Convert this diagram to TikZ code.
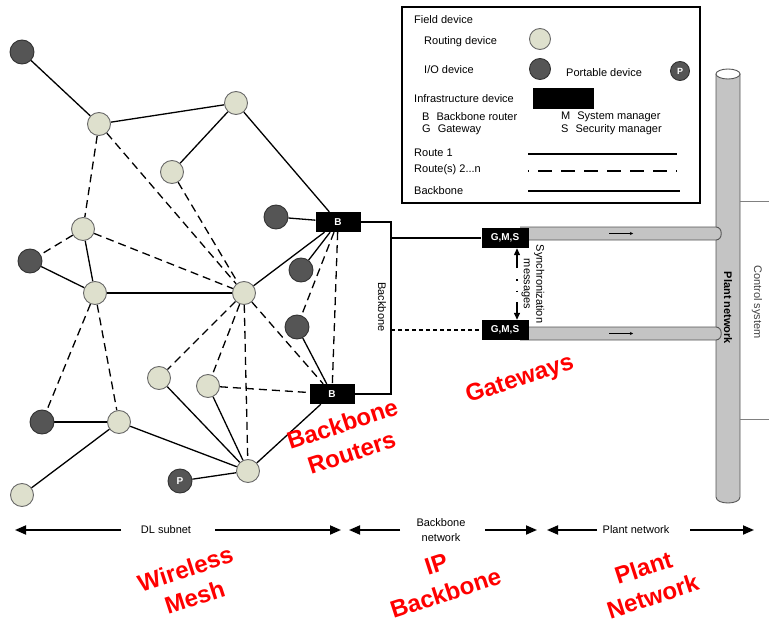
\documentclass[tikz,border=0pt]{standalone}
\usepackage{fontspec}
\setmainfont{Liberation Sans}
\usetikzlibrary{arrows.meta}

\definecolor{routefill}{RGB}{222,224,205}
\definecolor{routeedge}{RGB}{105,105,105}
\definecolor{iofill}{RGB}{85,85,85}
\definecolor{ioedge}{RGB}{50,50,50}
\definecolor{pipefill}{RGB}{196,196,196}
\definecolor{pipeedge}{RGB}{85,85,85}
\definecolor{labelred}{RGB}{255,0,0}

\pgfdeclarelayer{bg}
\pgfsetlayers{bg,main}

\tikzset{
  routing/.style={circle, draw=routeedge, fill=routefill, line width=0.9pt, minimum size=23pt, inner sep=0pt},
  iodev/.style={circle, draw=ioedge, fill=iofill, line width=0.9pt, minimum size=24pt, inner sep=0pt,
                text=white, font=\fontsize{10}{12}\selectfont\bfseries},
  infra/.style={fill=black, text=white, font=\fontsize{10}{12}\selectfont\bfseries,
                minimum width=45pt, minimum height=20pt, inner sep=0pt},
  route1/.style={line width=1.3pt},
  routen/.style={line width=1.3pt, dash pattern=on 8pt off 5pt},
  bbone/.style={line width=2.2pt},
  txt/.style={font=\fontsize{11}{13}\selectfont, inner sep=0pt},
  bigred/.style={text=labelred, font=\fontsize{24}{30}\selectfont\bfseries, align=center, rotate=18, inner sep=0pt},
  span/.style={line width=1.8pt, -{Triangle[length=11pt,width=9pt]}},
  pipe/.style={draw=pipeedge, fill=pipefill, line width=0.9pt},
}

\begin{document}
\begin{tikzpicture}[x=1pt,y=-1pt]
\useasboundingbox (0,0) rectangle (769,623);

% ---------- legend ----------
\draw[line width=2pt] (402,7) rectangle (700,203);
\node[txt, anchor=west] (lfd) at (414,20) {Field device};
\node[txt, anchor=west] (lrd) at (424,42) {Routing device};
\node[routing, minimum size=21pt] (lrc) at (540,39) {};
\node[txt, anchor=west] (lio) at (424,70) {I/O device};
\node[iodev, minimum size=21pt] (lic) at (540,69) {};
\node[txt, anchor=west] (lpd) at (566,73) {Portable device};
\node[iodev, minimum size=19pt, font=\fontsize{9}{10}\selectfont\bfseries] (lpc) at (680,71) {P};
\node[txt, anchor=west] (lin) at (414,99) {Infrastructure device};
\node[fill=black, minimum width=61pt, minimum height=21pt, inner sep=0pt] (lbx) at (563.5,98.5) {};
\node[txt, anchor=west] (lbb) at (422,117) {B\hspace{7pt}Backbone router};
\node[txt, anchor=west] (lgw) at (422,130) {G\hspace{7pt}Gateway};
\node[txt, anchor=west] (lsm) at (561,117) {M\hspace{7pt}System manager};
\node[txt, anchor=west] (lsc) at (561,130) {S\hspace{7pt}Security manager};
\node[txt, anchor=west] (lr1) at (414,153) {Route 1};
\node[txt, anchor=west] (lrn) at (414,170) {Route(s) 2...n};
\node[txt, anchor=west] (lbk) at (414,191) {Backbone};
\coordinate (ra1) at (528,154); \coordinate (rb1) at (677,154);
\coordinate (ra2) at (528,171); \coordinate (rb2) at (677,171);
\coordinate (ra3) at (528,191); \coordinate (rb3) at (680,191);
\draw[route1] (ra1) -- (rb1);
\draw[line width=1.4pt, dash pattern=on 14pt off 9pt, dash phase=13pt] (ra2) -- (rb2);
\draw[line width=2.6pt] (ra3) -- (rb3);

% ---------- plant network pipes ----------
\draw[pipe] (716,74) -- (716,497) .. controls (716,505) and (740,505) .. (740,497) -- (740,74);
\draw[pipeedge, fill=white, line width=0.9pt] (728,74) ellipse [x radius=12, y radius=5];
\draw[pipe] (520,227) -- (716,227) .. controls (723,227) and (723,240) .. (716,240) -- (520,240);
\draw[pipe] (520,327) -- (716,327) .. controls (723,327) and (723,340) .. (716,340) -- (520,340);
\draw[line width=0.6pt, -{Stealth[length=3pt,width=3pt]}] (609,233.5) -- (633,233.5);
\draw[line width=0.6pt, -{Stealth[length=3pt,width=3pt]}] (609,333.5) -- (633,333.5);
\node[txt, rotate=-90, font=\fontsize{11}{13}\selectfont\bfseries] (pn) at (728,308) {Plant network};
\draw[gray, line width=0.7pt] (740,201) -- (769,201);
\draw[gray, line width=0.7pt] (740,419) -- (769,419);
\node[txt, rotate=-90, text=black!75] (cs) at (757,302) {Control system};

% ---------- wireless mesh nodes ----------
\node[iodev]   (io1) at (22,52)   {};
\node[routing] (r1)  at (99,124)  {};
\node[routing] (r2)  at (236,103) {};
\node[routing] (r3)  at (172,172) {};
\node[iodev]   (io2) at (276,217) {};
\node[routing] (r4)  at (83,229)  {};
\node[iodev]   (io3) at (30,261)  {};
\node[routing] (r5)  at (95,293)  {};
\node[routing] (hub) at (244,293) {};
\node[iodev]   (io4) at (301,270) {};
\node[iodev]   (io5) at (297,327) {};
\node[routing] (r7)  at (159,378) {};
\node[routing] (r8)  at (208,386) {};
\node[iodev]   (io6) at (42,422)  {};
\node[routing] (r9)  at (119,422) {};
\node[routing] (r10) at (22,495)  {};
\node[routing] (r11) at (248,471) {};
\node[iodev]   (pd)  at (180,481) {P};

% ---------- infrastructure devices ----------
\node[infra] (b1) at (338,222) {B};
\node[infra] (b2) at (332,394) {B};
\node[infra, minimum width=47pt] (g1) at (505,238) {G,M,S};
\node[infra, minimum width=47pt] (g2) at (505,330) {G,M,S};

% ---------- mesh links ----------
\begin{pgfonlayer}{bg}
\draw[route1] (io1) -- (r1);
\draw[route1] (r1) -- (r2);
\draw[route1] (r2) -- (r3);
\draw[route1] (r2) -- (b1);
\draw[route1] (io2) -- (b1);
\draw[route1] (hub) -- (b1);
\draw[route1] (io4) -- (b1);
\draw[route1] (io5) -- (b2);
\draw[route1] (r4) -- (r5);
\draw[route1] (io3) -- (r5);
\draw[route1] (r5) -- (hub);
\draw[route1] (r9) -- (io6);
\draw[route1] (r9) -- (r10);
\draw[route1] (r9) -- (r11);
\draw[route1] (r7) -- (r11);
\draw[route1] (r8) -- (r11);
\draw[route1] (pd) -- (r11);
\draw[route1] (r11) -- (b2);

\draw[routen] (r1) -- (r4);
\draw[routen] (r1) -- (hub);
\draw[routen] (r3) -- (hub);
\draw[routen] (r4) -- (io3);
\draw[routen] (r4) -- (hub);
\draw[routen] (r5) -- (io6);
\draw[routen] (r5) -- (r9);
\draw[routen] (hub) -- (r7);
\draw[routen] (hub) -- (r8);
\draw[routen] (hub) -- (r11);
\draw[routen] (hub) -- (b2);
\draw[routen] (r8) -- (b2);
\draw[routen] (b1) -- (b2);
\draw[routen] (b1) -- (io5);
\end{pgfonlayer}

% ---------- backbone ----------
\coordinate (bt) at (391,222);
\coordinate (bb) at (391,394);
\draw[bbone] (b1.east) -- (bt) -- (bb) -- (b2.east);
\draw[bbone] (bt |- g1.west) -- (g1.west);
\draw[bbone, dash pattern=on 4pt off 3pt] (bt |- g2.west) -- (g2.west);
\node[txt, rotate=-90] (bbl) at (382,307) {Backbone};

% ---------- synchronization ----------
\coordinate (sa) at (517,268);
\coordinate (sb) at (517,302);
\draw[line width=1.3pt, -{Triangle[length=7pt,width=6pt]}] (sa) -- (sa |- g1.south) ;
\draw[line width=1.3pt, -{Triangle[length=7pt,width=6pt]}] (sb) -- (sb |- g2.north);
\draw[line width=1.5pt, dash pattern=on 1.5pt off 10pt, shorten <=11pt, shorten >=8pt] (sa) -- (sb);
\node[txt, rotate=-90, align=center, font=\fontsize{11}{12.5}\selectfont] (sync) at (533,284) {Synchronization\\messages};

% ---------- spans along the bottom ----------
\node[txt] (dl) at (166,530) {DL subnet};
\node[txt, align=center, font=\fontsize{11}{14.5}\selectfont] (bn) at (441,530) {Backbone\\network};
\node[txt] (pl) at (636,530) {Plant network};
\coordinate (dlL0) at (121,530); \coordinate (dlL) at (15,530);
\coordinate (dlR0) at (215,530); \coordinate (dlR) at (341,530);
\coordinate (bnL0) at (400,530); \coordinate (bnL) at (349,530);
\coordinate (bnR0) at (485,530); \coordinate (bnR) at (537,530);
\coordinate (plL0) at (597,530); \coordinate (plL) at (547,530);
\coordinate (plR0) at (690,530); \coordinate (plR) at (754,530);
\draw[span] (dlL0) -- (dlL);
\draw[span] (dlR0) -- (dlR);
\draw[span] (bnL0) -- (bnL);
\draw[span] (bnR0) -- (bnR);
\draw[span] (plL0) -- (plL);
\draw[span] (plR0) -- (plR);

% ---------- red captions ----------
\node[bigred] (cwm) at (190,583) {Wireless\\Mesh};
\node[bigred] (cbr) at (347,438) {Backbone\\Routers};
\node[bigred] (cgw) at (520,380) {Gateways};
\node[bigred] (cip) at (441,579) {IP\\Backbone};
\node[bigred] (cpn) at (648,582) {Plant\\Network};
\end{tikzpicture}
\end{document}
